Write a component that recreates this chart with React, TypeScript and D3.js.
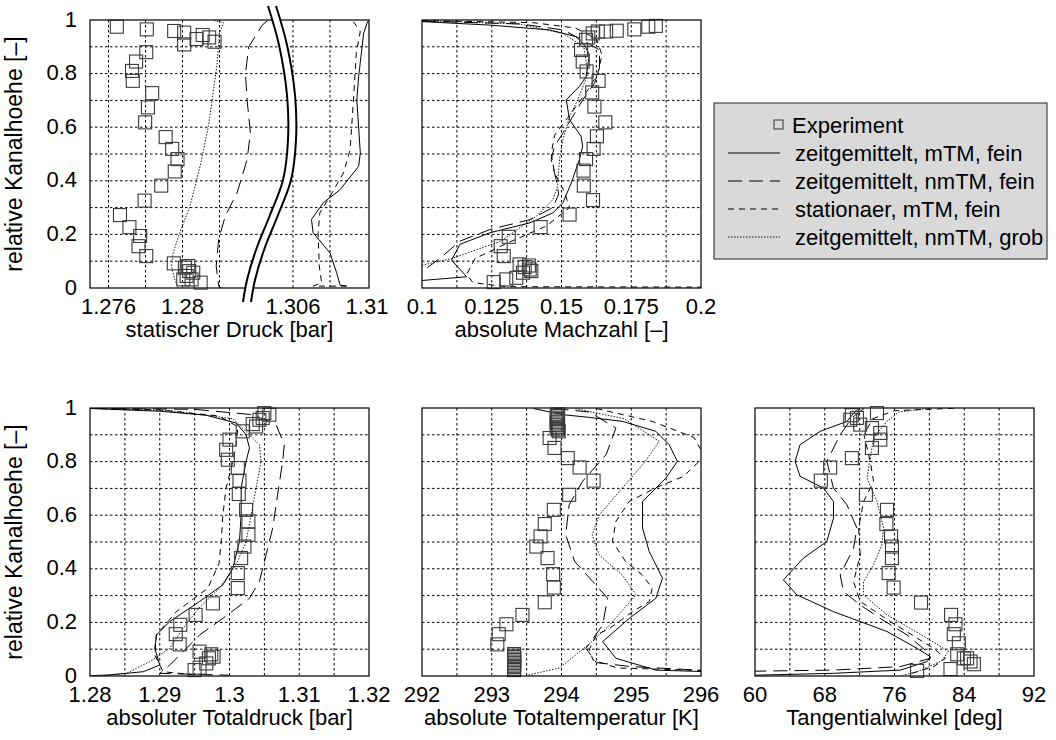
import React, { useEffect, useRef } from "react";
import * as d3 from "d3";

type Pt = [number, number]; // [x value, relative height]

const W = 1056;
const H = 740;
const PW = 279;
const PH = 268;
const FONT = "'Liberation Sans', Arial, Helvetica, sans-serif";
const FS = 22;

// relative Kanalhoehe, shared by all panels
const hGrid = [0.1, 0.2, 0.3, 0.4, 0.5, 0.6, 0.7, 0.8, 0.9];
const hTicks = [0, 0.2, 0.4, 0.6, 0.8, 1];
const hLabels = ["0", "0.2", "0.4", "0.6", "0.8", "1"];

// statischer Druck [bar] (broken axis)
const druckGrid = [1.276, 1.278, 1.28, 1.282, 1.306, 1.308];
const druckTicks = [1.276, 1.28, 1.306, 1.31];
const druckLabels = ["1.276", "1.28", "1.306", "1.31"];
const druckExp: Pt[] = [
  [1.27645, 0.975], [1.27807, 0.965], [1.27955, 0.959], [1.28009, 0.953], [1.28009, 0.909],
  [1.28076, 0.929], [1.28109, 0.944], [1.28144, 0.935], [1.28173, 0.919], [1.27804, 0.88],
  [1.27749, 0.845], [1.27727, 0.81], [1.27731, 0.773], [1.27836, 0.727], [1.27813, 0.674],
  [1.27798, 0.618], [1.27909, 0.563], [1.27944, 0.519], [1.27973, 0.481], [1.27958, 0.435],
  [1.27885, 0.382], [1.27795, 0.326], [1.27662, 0.272], [1.27713, 0.227], [1.27771, 0.194],
  [1.27762, 0.156], [1.27804, 0.119], [1.27953, 0.092], [1.28031, 0.082], [1.28013, 0.076],
  [1.28036, 0.063], [1.28058, 0.057], [1.28022, 0.045], [1.28049, 0.032], [1.28004, 0.032],
  [1.28098, 0.02],
];
const druckMtm: Pt[] = [
  [1.3101, 1.0], [1.31, 0.988], [1.30982, 0.95], [1.30955, 0.789], [1.30945, 0.702],
  [1.30964, 0.504], [1.30955, 0.454], [1.30855, 0.367], [1.30764, 0.318], [1.307, 0.256],
  [1.30709, 0.206], [1.308, 0.131], [1.30836, 0.057], [1.30855, 0.01], [1.3089, 0.008],
];
const druckNmtm: Pt[] = [
  [1.2846, 0.998], [1.28431, 0.981], [1.28358, 0.9], [1.2834, 0.8], [1.28349, 0.702],
  [1.28367, 0.578], [1.28349, 0.479], [1.28295, 0.355], [1.28231, 0.268], [1.28195, 0.181],
  [1.28182, 0.082], [1.28195, 0.007], [1.2821, 0.0],
];
const druckStat: Pt[] = [
  [1.30927, 0.994], [1.30964, 0.957], [1.30942, 0.876], [1.30927, 0.702], [1.30909, 0.516],
  [1.30873, 0.429], [1.308, 0.342], [1.30745, 0.28], [1.30736, 0.206], [1.30742, 0.082],
  [1.30755, 0.02], [1.3071, 0.007], [1.3089, 0.007],
];
const druckGrob: Pt[] = [
  [1.2817, 0.998], [1.28222, 0.99], [1.282, 0.95], [1.28185, 0.826], [1.2814, 0.603],
  [1.28095, 0.454], [1.2804, 0.305], [1.27985, 0.206], [1.27949, 0.131], [1.2794, 0.082],
  [1.27958, 0.032], [1.27976, 0.0],
];

// absolute Machzahl [-]
const machGrid = [0.1125, 0.125, 0.1375, 0.15, 0.1625, 0.175, 0.1875];
const machTicks = [0.1, 0.125, 0.15, 0.175, 0.2];
const machLabels = ["0.1", "0.125", "0.15", "0.175", "0.2"];
const machExp: Pt[] = [
  [0.1596, 0.935], [0.1612, 0.95], [0.163, 0.957], [0.166, 0.957], [0.1698, 0.96],
  [0.1761, 0.965], [0.1811, 0.975], [0.1838, 0.978], [0.1588, 0.926], [0.157, 0.888],
  [0.1576, 0.845], [0.159, 0.808], [0.1633, 0.773], [0.161, 0.73], [0.1618, 0.677],
  [0.1657, 0.618], [0.1627, 0.566], [0.1615, 0.519], [0.1588, 0.481], [0.1579, 0.438],
  [0.158, 0.382], [0.1613, 0.328], [0.1529, 0.274], [0.1425, 0.227], [0.1311, 0.191],
  [0.1282, 0.156], [0.1293, 0.119], [0.135, 0.088], [0.1368, 0.078], [0.1386, 0.069],
  [0.1383, 0.084], [0.1362, 0.057], [0.1338, 0.038], [0.1302, 0.032], [0.1257, 0.022],
  [0.1392, 0.063],
];
const machMtm: Pt[] = [
  [0.1, 0.994], [0.1243, 0.981], [0.1457, 0.963], [0.1552, 0.938], [0.1582, 0.907],
  [0.16, 0.87], [0.1588, 0.789], [0.1564, 0.752], [0.1517, 0.702], [0.1529, 0.628],
  [0.157, 0.566], [0.1576, 0.529], [0.1564, 0.479], [0.1535, 0.392], [0.1505, 0.318],
  [0.1469, 0.28], [0.1386, 0.243], [0.1243, 0.206], [0.1136, 0.163], [0.1106, 0.104],
  [0.116, 0.042], [0.1, 0.028],
];
const machNmtm: Pt[] = [
  [0.1, 0.996], [0.1357, 0.985], [0.1505, 0.963], [0.1576, 0.925], [0.1636, 0.888],
  [0.1636, 0.82], [0.1618, 0.764], [0.1576, 0.702], [0.1505, 0.578], [0.1475, 0.529],
  [0.1463, 0.479], [0.1481, 0.404], [0.149, 0.35], [0.1469, 0.3], [0.1386, 0.255],
  [0.1243, 0.218], [0.1136, 0.175], [0.1075, 0.12], [0.1, 0.06],
];
const machStat: Pt[] = [
  [0.1, 0.998], [0.14, 0.99], [0.155, 0.97], [0.1625, 0.93], [0.1645, 0.87],
  [0.163, 0.8], [0.1595, 0.74], [0.154, 0.66], [0.1475, 0.57], [0.1463, 0.5],
  [0.1475, 0.43], [0.151, 0.36], [0.1529, 0.3], [0.1445, 0.231], [0.13, 0.165],
  [0.119, 0.11], [0.116, 0.05], [0.1183, 0.02], [0.13, 0.005], [0.21, 0.003],
];
const machGrob: Pt[] = [
  [0.1, 0.998], [0.135, 0.985], [0.1505, 0.95], [0.158, 0.9], [0.1595, 0.8],
  [0.1558, 0.702], [0.1529, 0.64], [0.1505, 0.553], [0.1493, 0.479], [0.1487, 0.404],
  [0.1486, 0.378], [0.1469, 0.33], [0.141, 0.268], [0.1279, 0.173], [0.1106, 0.11],
  [0.1, 0.085],
];

// absoluter Totaldruck [bar]
const totdGrid = [1.285, 1.29, 1.295, 1.3, 1.305, 1.31, 1.315];
const totdTicks = [1.28, 1.29, 1.3, 1.31, 1.32];
const totdLabels = ["1.28", "1.29", "1.3", "1.31", "1.32"];
const totdExp: Pt[] = [
  [1.305, 0.981], [1.30571, 0.975], [1.30429, 0.956], [1.30381, 0.931], [1.30333, 0.94],
  [1.30476, 0.963], [1.3019, 0.913], [1.3, 0.882], [1.29952, 0.844], [1.29976, 0.807],
  [1.30119, 0.776], [1.30143, 0.729], [1.30133, 0.679], [1.30238, 0.62], [1.30271, 0.577],
  [1.30271, 0.527], [1.30214, 0.483], [1.30167, 0.44], [1.30119, 0.384], [1.30119, 0.328],
  [1.29762, 0.271], [1.29514, 0.228], [1.29295, 0.191], [1.29229, 0.156], [1.29286, 0.118],
  [1.29571, 0.091], [1.29738, 0.081], [1.29705, 0.066], [1.29667, 0.047], [1.29571, 0.031],
  [1.295, 0.022], [1.29771, 0.072],
];
const totdMtm: Pt[] = [
  [1.28, 0.998], [1.29, 0.988], [1.29667, 0.973], [1.30095, 0.944], [1.30238, 0.9],
  [1.30286, 0.851], [1.30238, 0.801], [1.30167, 0.701], [1.30167, 0.601], [1.30143, 0.502],
  [1.30048, 0.402], [1.29905, 0.34], [1.29571, 0.278], [1.29143, 0.203], [1.28952, 0.153],
  [1.28929, 0.103], [1.29, 0.041], [1.28762, 0.016], [1.28286, 0.004], [1.28, 0.001],
];
const totdNmtm: Pt[] = [
  [1.28, 0.999], [1.295, 0.995], [1.30333, 0.975], [1.30667, 0.938], [1.30786, 0.863],
  [1.30762, 0.801], [1.3069, 0.676], [1.30619, 0.552], [1.30524, 0.452], [1.30429, 0.352],
  [1.30286, 0.29], [1.29905, 0.215], [1.29571, 0.153], [1.29286, 0.078], [1.29095, 0.029],
  [1.29, 0.01], [1.3, 0.003],
];
const totdStat: Pt[] = [
  [1.28, 0.999], [1.29, 0.993], [1.2985, 0.97], [1.3012, 0.93], [1.30095, 0.863],
  [1.30048, 0.801], [1.2995, 0.7], [1.29905, 0.6], [1.29881, 0.502], [1.2985, 0.42],
  [1.2969, 0.328], [1.29238, 0.24], [1.28952, 0.153], [1.28929, 0.078], [1.29048, 0.016],
  [1.2952, 0.004],
];
const totdGrob: Pt[] = [
  [1.28, 0.999], [1.2915, 0.99], [1.3005, 0.96], [1.30429, 0.863], [1.30452, 0.801],
  [1.30381, 0.701], [1.3031, 0.601], [1.30238, 0.502], [1.30095, 0.415], [1.29857, 0.328],
  [1.2955, 0.25], [1.29333, 0.178], [1.29143, 0.103], [1.28857, 0.054], [1.28524, 0.01],
  [1.282, 0.002],
];

// absolute Totaltemperatur [K]
const tempGrid = [292.5, 293, 293.5, 294, 294.5, 295, 295.5];
const tempTicks = [292, 293, 294, 295, 296];
const tempLabels = ["292", "293", "294", "295", "296"];
const tempExp: Pt[] = [
  [293.95, 0.976], [293.93, 0.97], [293.95, 0.964], [293.94, 0.959], [293.95, 0.953],
  [293.93, 0.947], [293.95, 0.942], [293.94, 0.936], [293.95, 0.93], [293.93, 0.924],
  [293.95, 0.919], [293.96, 0.913], [293.83, 0.888], [293.9, 0.851], [294.09, 0.813],
  [294.26, 0.778], [294.46, 0.729], [294.11, 0.676], [293.89, 0.62], [293.76, 0.567],
  [293.7, 0.521], [293.64, 0.483], [293.8, 0.44], [293.88, 0.38], [293.89, 0.33],
  [293.76, 0.275], [293.44, 0.228], [293.21, 0.193], [293.1, 0.156], [293.08, 0.118],
  [293.32, 0.082], [293.32, 0.076], [293.32, 0.071], [293.32, 0.065], [293.32, 0.06],
  [293.32, 0.054], [293.32, 0.049], [293.32, 0.043], [293.32, 0.038], [293.32, 0.033],
  [293.32, 0.027], [293.32, 0.022],
];
const tempMtm: Pt[] = [
  [293.6, 0.998], [294.02, 0.975], [294.4, 0.965], [294.876, 0.95], [295.353, 0.913],
  [295.543, 0.863], [295.662, 0.801], [295.495, 0.738], [295.162, 0.651], [295.162, 0.552],
  [295.257, 0.465], [295.448, 0.365], [295.353, 0.29], [294.971, 0.215], [294.59, 0.128],
  [294.781, 0.066], [295.353, 0.022], [296.1, 0.016],
];
const tempNmtm: Pt[] = [
  [293.9, 0.998], [294.4, 0.985], [294.78, 0.925], [294.64, 0.826], [294.3, 0.726],
  [294.11, 0.639], [294.06, 0.527], [294.19, 0.427], [294.45, 0.352], [294.66, 0.29],
  [294.59, 0.19], [294.35, 0.103], [294.5, 0.05], [295.0, 0.035], [296.1, 0.02],
];
const tempStat: Pt[] = [
  [294.5, 0.998], [295.3, 0.95], [295.9, 0.89], [296.05, 0.82], [295.75, 0.745],
  [295.34, 0.701], [294.97, 0.651], [294.78, 0.577], [294.73, 0.502], [294.92, 0.427],
  [295.16, 0.377], [295.3, 0.328], [295.26, 0.278], [295.02, 0.24], [294.69, 0.178],
  [294.5, 0.153], [294.4, 0.1], [294.45, 0.06], [294.8, 0.03], [296.1, 0.02],
];
const tempGrob: Pt[] = [
  [294.2, 0.998], [294.9, 0.96], [295.4, 0.876], [295.2, 0.8], [294.87, 0.701],
  [294.54, 0.6], [294.44, 0.527], [294.54, 0.452], [294.87, 0.377], [295.07, 0.303],
  [294.69, 0.19], [294.4, 0.12], [293.97, 0.03], [293.5, 0.002],
];

// Tangentialwinkel [deg]
const angGrid = [64, 68, 72, 76, 80, 84, 88];
const angTicks = [60, 68, 76, 84, 92];
const angLabels = ["60", "68", "76", "84", "92"];
const angExp: Pt[] = [
  [71.11, 0.973], [71.69, 0.963], [70.92, 0.956], [72.07, 0.938], [73.99, 0.981],
  [73.41, 0.925], [74.37, 0.907], [74.37, 0.882], [73.41, 0.851], [71.11, 0.813],
  [68.62, 0.778], [67.55, 0.729], [72.72, 0.676], [75.14, 0.62], [75.07, 0.567],
  [75.6, 0.521], [75.71, 0.483], [75.71, 0.44], [75.33, 0.384], [75.9, 0.33],
  [79.04, 0.274], [82.49, 0.228], [82.99, 0.193], [82.8, 0.156], [83.38, 0.122],
  [83.19, 0.081], [84.33, 0.066], [84.72, 0.054], [85.1, 0.044], [83.95, 0.066],
  [82.42, 0.026], [78.59, 0.019],
];
const angMtm: Pt[] = [
  [71.69, 0.994], [70.54, 0.95], [67.47, 0.913], [65.17, 0.863], [64.6, 0.801],
  [65.17, 0.745], [67.86, 0.701], [69.0, 0.651], [69.0, 0.589], [68.24, 0.502],
  [65.56, 0.44], [63.26, 0.359], [64.79, 0.303], [69.0, 0.24], [75.14, 0.166],
  [78.59, 0.103], [80.12, 0.072], [79.74, 0.054], [76.67, 0.022], [69.0, 0.01],
  [60, 0.003],
];
const angNmtm: Pt[] = [
  [72.5, 0.998], [71.1, 0.963], [69.77, 0.9], [68.24, 0.801], [69.0, 0.701],
  [70.54, 0.639], [71.69, 0.552], [71.3, 0.477], [69.77, 0.377], [70.15, 0.315],
  [72.07, 0.265], [74.37, 0.215], [77.44, 0.153], [79.74, 0.091], [80.12, 0.066],
  [76.67, 0.035], [69.0, 0.022], [60, 0.018],
];
const angStat: Pt[] = [
  [82.8, 0.999], [76, 0.99], [73.5, 0.96], [72.5, 0.9], [73.22, 0.801],
  [73.6, 0.726], [72.45, 0.651], [71.88, 0.552], [72.07, 0.452], [71.3, 0.352],
  [72.07, 0.278], [75.52, 0.203], [80.5, 0.103], [81.84, 0.066], [80.5, 0.035],
  [78, 0.01],
];
const angGrob: Pt[] = [
  [80, 0.999], [76.5, 0.985], [75.14, 0.95], [73.6, 0.888], [72.84, 0.738],
  [73.99, 0.651], [74.75, 0.552], [74.55, 0.489], [73.6, 0.415], [72.45, 0.352],
  [72.45, 0.303], [75.14, 0.228], [79.74, 0.141], [82.23, 0.091], [81.27, 0.054],
  [78.59, 0.016], [77, 0.003],
];

const seriesStyles = [
  { key: "mtm", label: "zeitgemittelt, mTM, fein", dash: null, width: 1 },
  { key: "nmtm", label: "zeitgemittelt, nmTM, fein", dash: "14,7", width: 1 },
  { key: "stat", label: "stationaer, mTM, fein", dash: "6,5", width: 1 },
  { key: "grob", label: "zeitgemittelt, nmTM, grob", dash: "1.5,1.5", width: 0.9 },
];

const panels = [
  {
    left: 90, top: 20, domain: [1.275, 1.28462, 1.30465, 1.31011], brk: true,
    grid: druckGrid, ticks: druckTicks, labels: druckLabels, yAxis: true,
    title: "statischer Druck [bar]",
    exp: druckExp, mtm: druckMtm, nmtm: druckNmtm, stat: druckStat, grob: druckGrob,
  },
  {
    left: 422, top: 20, domain: [0.1, 0.2], brk: false,
    grid: machGrid, ticks: machTicks, labels: machLabels, yAxis: false,
    title: "absolute Machzahl [–]",
    exp: machExp, mtm: machMtm, nmtm: machNmtm, stat: machStat, grob: machGrob,
  },
  {
    left: 90, top: 408, domain: [1.28, 1.32], brk: false,
    grid: totdGrid, ticks: totdTicks, labels: totdLabels, yAxis: true,
    title: "absoluter Totaldruck [bar]",
    exp: totdExp, mtm: totdMtm, nmtm: totdNmtm, stat: totdStat, grob: totdGrob,
  },
  {
    left: 422, top: 408, domain: [292, 296], brk: false,
    grid: tempGrid, ticks: tempTicks, labels: tempLabels, yAxis: false,
    title: "absolute Totaltemperatur [K]",
    exp: tempExp, mtm: tempMtm, nmtm: tempNmtm, stat: tempStat, grob: tempGrob,
  },
  {
    left: 755, top: 408, domain: [60, 92], brk: false,
    grid: angGrid, ticks: angTicks, labels: angLabels, yAxis: false,
    title: "Tangentialwinkel [deg]",
    exp: angExp, mtm: angMtm, nmtm: angNmtm, stat: angStat, grob: angGrob,
  },
];

// axis break decoration for the static pressure panel (pixels inside the panel)
const breakPath: Pt[] = [
  [178, -14], [189, 25], [197, 75], [198, 120], [193, 160], [180, 195],
  [166, 230], [157, 260], [153, 282],
];

export default function App() {
  const ref = useRef<SVGSVGElement>(null);

  useEffect(() => {
    document.body.style.margin = "0";
    const svg = d3.select(ref.current);
    svg.selectAll("*").remove();

    const y = d3.scaleLinear().domain([0, 1]).range([PH, 0]);

    panels.forEach((p, i) => {
      const x = d3.scaleLinear()
        .domain(p.domain)
        .range(p.domain.length === 4 ? [0, 178, 178, PW] : [0, PW]);

      const g = svg.append("g").attr("transform", `translate(${p.left},${p.top})`);
      const clipId = "clip" + i;
      g.append("clipPath").attr("id", clipId)
        .append("rect").attr("width", PW).attr("height", PH);

      // grid
      g.selectAll(".vg").data(p.grid).enter().append("line")
        .attr("x1", d => x(d)).attr("x2", d => x(d))
        .attr("y1", 0).attr("y2", PH)
        .attr("stroke", "#000").attr("stroke-width", 1)
        .attr("stroke-dasharray", "2.5,2.5");
      g.selectAll(".hg").data(hGrid).enter().append("line")
        .attr("x1", 0).attr("x2", PW)
        .attr("y1", d => y(d)).attr("y2", d => y(d))
        .attr("stroke", "#000").attr("stroke-width", 1)
        .attr("stroke-dasharray", "2.5,2.5");

      const plot = g.append("g").attr("clip-path", `url(#${clipId})`);
      const line = d3.line<Pt>().x(d => x(d[0])).y(d => y(d[1]));
      seriesStyles.forEach(s => {
        plot.append("path")
          .attr("d", line((p as any)[s.key]))
          .attr("fill", "none")
          .attr("stroke", "#000")
          .attr("stroke-width", s.width)
          .attr("stroke-dasharray", s.dash);
      });

      g.selectAll(".exp").data(p.exp).enter().append("rect")
        .attr("x", d => x(d[0]) - 6.5).attr("y", d => y(d[1]) - 6.5)
        .attr("width", 13).attr("height", 13)
        .attr("fill", "none").attr("stroke", "#3a3a3a").attr("stroke-width", 1.1);

      g.append("rect").attr("width", PW).attr("height", PH)
        .attr("fill", "none").attr("stroke", "#111").attr("stroke-width", 1.3);

      if (p.brk) {
        const bl = d3.line<Pt>().curve(d3.curveCatmullRom);
        g.append("path").attr("d", bl(breakPath.map(d => [d[0] + 4, d[1]] as Pt)))
          .attr("fill", "none").attr("stroke", "#fff").attr("stroke-width", 7);
        [0, 8].forEach(off => {
          g.append("path").attr("d", bl(breakPath.map(d => [d[0] + off, d[1]] as Pt)))
            .attr("fill", "none").attr("stroke", "#000").attr("stroke-width", 2);
        });
      }

      // tick labels
      g.selectAll(".xl").data(p.ticks).enter().append("text")
        .attr("x", d => x(d)).attr("y", PH + 26)
        .attr("text-anchor", "middle")
        .attr("font-family", FONT).attr("font-size", FS)
        .text((d, j) => p.labels[j]);

      g.append("text")
        .attr("x", PW / 2).attr("y", PH + 49)
        .attr("text-anchor", "middle")
        .attr("font-family", FONT).attr("font-size", FS)
        .text(p.title);

      if (p.yAxis) {
        g.selectAll(".yl").data(hTicks).enter().append("text")
          .attr("x", -13).attr("y", d => y(d) + 6.5)
          .attr("text-anchor", "end")
          .attr("font-family", FONT).attr("font-size", FS)
          .text((d, j) => hLabels[j]);
        g.append("text")
          .attr("transform", `translate(${-68},${PH / 2}) rotate(-90)`)
          .attr("text-anchor", "middle")
          .attr("font-family", FONT).attr("font-size", 23)
          .text("relative Kanalhoehe [–]");
      }
    });

    // legend
    const lg = svg.append("g").attr("transform", "translate(714,103)");
    lg.append("rect").attr("width", 333).attr("height", 156)
      .attr("fill", "#d9d9d9").attr("stroke", "#222").attr("stroke-width", 1);
    lg.append("rect").attr("x", 60).attr("y", 17).attr("width", 9).attr("height", 9)
      .attr("fill", "none").attr("stroke", "#333").attr("stroke-width", 1);
    lg.append("text").attr("x", 78).attr("y", 29.5)
      .attr("font-family", FONT).attr("font-size", FS).text("Experiment");
    seriesStyles.forEach((s, j) => {
      const cy = 50 + j * 28;
      lg.append("line").attr("x1", 14).attr("x2", 66).attr("y1", cy).attr("y2", cy)
        .attr("stroke", "#000").attr("stroke-width", s.width)
        .attr("stroke-dasharray", s.dash);
      lg.append("text").attr("x", 81).attr("y", cy + 7.5)
        .attr("font-family", FONT).attr("font-size", FS).text(s.label);
    });
  }, []);

  return <svg ref={ref} width={W} height={H} style={{ display: "block", background: "#fff" }} />;
}
